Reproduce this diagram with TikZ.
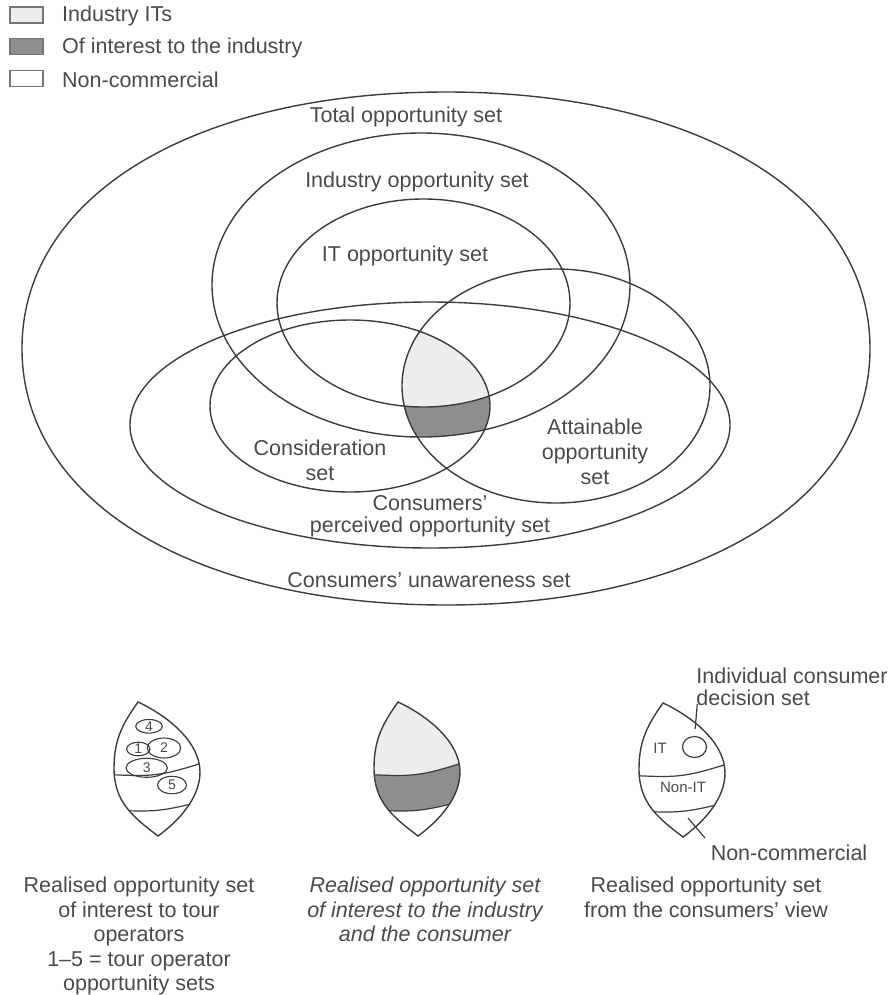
\documentclass[tikz,border=0pt]{standalone}
\usepackage{fontspec}
\setmainfont{Liberation Sans}
\usetikzlibrary{shapes.geometric,calc}
\definecolor{ink}{HTML}{3C3C3C}
\definecolor{txt}{HTML}{4A4A4A}
\definecolor{lightfill}{HTML}{EDEDED}
\definecolor{darkfill}{HTML}{8E8E8E}

% outline of the small realised-set lens, top tip at the local origin
\newcommand\lenspath{(0,0) .. controls (-14,20) and (-24,36) .. (-24,66)
  .. controls (-24,100) and (-5,115) .. (20,134)
  .. controls (42,118) and (62,95) .. (62,70)
  .. controls (62,40) and (30,14) .. (0,0) -- cycle}
\newcommand\upperdiv{(-40,72) .. controls (20,75) .. (80,56)}
\newcommand\lowerdiv{(-30,108) .. controls (20,110) .. (70,98)}

\begin{document}
\begin{tikzpicture}[x=1pt,y=-1pt,
  setline/.style={draw=ink,line width=1.4pt},
  thin/.style={draw=ink,line width=1.2pt},
  lbl/.style={text=txt,font=\fontsize{21.5}{25}\selectfont,align=center,inner sep=0pt},
  smalllbl/.style={text=txt,font=\fontsize{15}{18}\selectfont,inner sep=0pt},
  num/.style={text=txt,font=\fontsize{14}{16}\selectfont,inner sep=0pt,ellipse,draw=ink,line width=1.1pt},
  keybox/.style={draw=ink!70,line width=1.1pt,minimum width=33pt,minimum height=16pt,inner sep=0pt},
  ]
\useasboundingbox (0,0) rectangle (892,995);

% ---------- legend ----------
\node[keybox,fill=lightfill] (k1) at (26.5,15) {};
\node[keybox,fill=darkfill]  (k2) at (26.5,46.5) {};
\node[keybox,fill=white]     (k3) at (26.5,78.5) {};
\node[lbl,anchor=west] (k1t) at (62,16)   {Industry ITs};
\node[lbl,anchor=west] (k2t) at (62,47.5) {Of interest to the industry};
\node[lbl,anchor=west] (k3t) at (62,79.5) {Non-commercial};

% ---------- shaded core of the Venn diagram ----------
\begin{scope}
  \clip (556,386) ellipse [x radius=154, y radius=117];
  \clip (350,406) ellipse [x radius=140, y radius=86];
  \fill[darkfill]  (421,285) ellipse [x radius=209, y radius=152];
  \fill[lightfill] (423.5,303) ellipse [x radius=146.5, y radius=104];
\end{scope}

% ---------- set outlines ----------
% total opportunity set: a slightly full oval
\draw[setline] (870,348.5) .. controls (870,195.9) and (698.3,92) .. (446,92)
  .. controls (193.7,92) and (22,195.9) .. (22,348.5)
  .. controls (22,501.1) and (193.7,605) .. (446,605)
  .. controls (698.3,605) and (870,501.1) .. (870,348.5) -- cycle;
\draw[setline] (421,285)   ellipse [x radius=209, y radius=152];     % industry
\draw[setline] (423.5,303) ellipse [x radius=146.5, y radius=104];   % IT
\draw[setline] (430,425)   ellipse [x radius=300, y radius=123];     % perceived
\draw[setline] (350,406)   ellipse [x radius=140, y radius=86];      % consideration
\draw[setline] (556,386)   ellipse [x radius=154, y radius=117];     % attainable

% ---------- set labels ----------
\node[lbl] (tot)  at (406,117) {Total opportunity set};
\node[lbl] (ind)  at (417,182) {Industry opportunity set};
\node[lbl] (its)  at (405,256) {IT opportunity set};
\node[lbl] (cons) at (320,460) {Consideration\\set};
\node[lbl] (att)  at (595,452) {Attainable\\opportunity\\set};
\node[lbl,font=\fontsize{21.5}{22}\selectfont] (perc) at (430,516) {Consumers’\\perceived opportunity set};
\node[lbl] (unaw) at (429,580) {Consumers’ unawareness set};

% ---------- lens 1: tour operators ----------
\begin{scope}[shift={(138,702)}]
  \begin{scope}
    \clip \lenspath;
    \draw[thin] \upperdiv;
    \draw[thin] \lowerdiv;
  \end{scope}
  \draw[setline] \lenspath;
\end{scope}
\node[num,minimum width=26.6pt,minimum height=12.6pt] (o4) at (149,726.3) {4};
\node[num,minimum width=23.4pt,minimum height=12pt]   (o1) at (138.3,749) {1};
\node[num,minimum width=33.4pt,minimum height=20pt]   (o2) at (164,748) {2};
\node[num,minimum width=41.4pt,minimum height=19pt]   (o3) at (146.7,767.8) {3};
\node[num,minimum width=29pt,minimum height=17.4pt]   (o5) at (172,785) {5};

% ---------- lens 2: industry and consumer ----------
\begin{scope}[shift={(398,702)}]
  \begin{scope}
    \clip \lenspath;
    \fill[lightfill] (-40,-10) rectangle (80,80);
    \fill[darkfill] (-40,72) .. controls (20,75) .. (80,56) -- (80,98) -- (70,98)
       .. controls (20,110) .. (-30,108) -- (-40,108) -- cycle;
    \draw[thin] \upperdiv;
    \draw[thin] \lowerdiv;
  \end{scope}
  \draw[setline] \lenspath;
\end{scope}

% ---------- lens 3: consumers' view ----------
\begin{scope}[shift={(663,703)}]
  \begin{scope}
    \clip \lenspath;
    \draw[thin] \upperdiv;
    \draw[thin] \lowerdiv;
  \end{scope}
  \draw[setline] \lenspath;
\end{scope}
\node[smalllbl] (itl)  at (660,748) {IT};
\node[smalllbl] (nitl) at (683,787) {Non-IT};
\node[ellipse,draw=ink,line width=1.2pt,minimum width=24pt,minimum height=21pt,inner sep=0pt] (dcs) at (694.5,747) {};
\node[lbl,align=left,font=\fontsize{21.5}{21.5}\selectfont] (dcst) at (792,687) {Individual consumer\\decision set};
\coordinate (ldtop) at (697.3,704);
\draw[thin,shorten <=7pt] (dcs.north) -- (ldtop);
\node[lbl] (nct) at (789,853) {Non-commercial};
\coordinate (ncin) at (688,818);
\coordinate (ncout) at (705,838);
\draw[thin] (ncin) -- (ncout);

% ---------- captions ----------
\node[lbl,anchor=north,font=\fontsize{21.5}{24.5}\selectfont] (cap1) at (139,877)
  {Realised opportunity set\\of interest to tour\\operators\\1–5 = tour operator\\opportunity sets};
\node[lbl,anchor=north,font=\fontsize{21.5}{24.5}\selectfont\itshape] (cap2) at (425,877)
  {Realised opportunity set\\of interest to the industry\\and the consumer};
\node[lbl,anchor=north,font=\fontsize{21.5}{24.5}\selectfont] (cap3) at (706,877)
  {Realised opportunity set\\from the consumers’ view};
\end{tikzpicture}
\end{document}
